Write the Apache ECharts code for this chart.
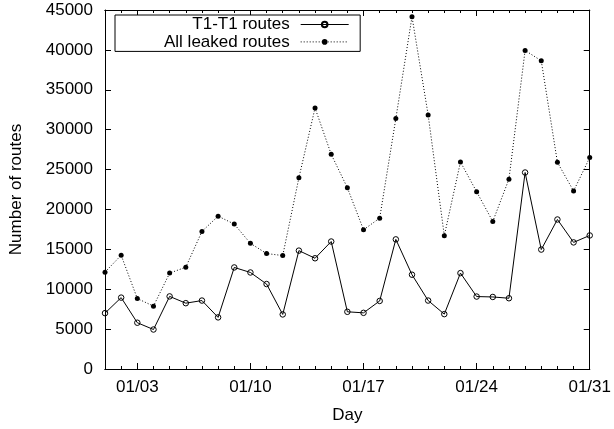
<!DOCTYPE html>
<html>
<head>
<meta charset="utf-8">
<script src="https://cdn.jsdelivr.net/npm/echarts@6/dist/echarts.min.js"></script>
<style>html,body{margin:0;padding:0;background:#fff}#c{width:614px;height:429px}</style>
</head>
<body>
<div id="c"></div>
<script>
var days = ['01/01','01/02','01/03','01/04','01/05','01/06','01/07','01/08','01/09','01/10',
            '01/11','01/12','01/13','01/14','01/15','01/16','01/17','01/18','01/19','01/20',
            '01/21','01/22','01/23','01/24','01/25','01/26','01/27','01/28','01/29','01/30','01/31'];
var majorLabels = ['01/03','01/10','01/17','01/24','01/31'];
var t1Routes = [7000, 8950, 5800, 4950, 9100, 8250, 8580, 6470, 12730, 12100,
                10650, 6840, 14840, 13880, 15980, 7170, 7040, 8530, 16250, 11820,
                8580, 6880, 12020, 9080, 9030, 8870, 24630, 14970, 18740, 15870, 16740];
var leakedRoutes = [12140, 14260, 8830, 7880, 12020, 12760, 17240, 19160, 18160, 15750,
                    14470, 14220, 23960, 32720, 26910, 22720, 17450, 18910, 31390, 44160,
                    31850, 16710, 25950, 22220, 18490, 23800, 39930, 38640, 25910, 22310, 26500];
var seriesNames = ['T1-T1 routes', 'All leaked routes'];

var FONT = 'Liberation Sans, Arial, Helvetica, sans-serif';
var isMajor = function (i, v) { return majorLabels.indexOf(days[i]) >= 0; };

function xAx(pos, major, labels, name) {
  return {
    type: 'category', data: days, boundaryGap: false, position: pos,
    name: name || '', nameLocation: 'middle', nameGap: 38,
    nameTextStyle: { fontFamily: FONT, fontSize: 17, color: '#000' },
    axisLine: { show: true, lineStyle: { color: '#000', width: 1 } },
    axisTick: { show: true, inside: true, length: major ? 6 : 3,
                interval: major ? isMajor : 0, lineStyle: { color: '#000' } },
    axisLabel: { show: labels, interval: isMajor, margin: 10,
                 fontFamily: FONT, fontSize: 17, color: '#000' },
    splitLine: { show: false }
  };
}
function yAx(pos, labels, name) {
  return {
    type: 'value', position: pos, min: 0, max: 45000, interval: 5000,
    name: name || '', nameLocation: 'middle', nameGap: 80,
    nameTextStyle: { fontFamily: FONT, fontSize: 17, color: '#000' },
    axisLine: { show: true, lineStyle: { color: '#000', width: 1 } },
    axisTick: { show: true, inside: true, length: 6, lineStyle: { color: '#000' } },
    axisLabel: { show: labels, margin: 12, fontFamily: FONT, fontSize: 17, color: '#000',
                 formatter: function (v) { return String(v); } },
    splitLine: { show: false }
  };
}

var chart = echarts.init(document.getElementById('c'), null, { renderer: 'canvas' });
chart.setOption({
  animation: false,
  backgroundColor: '#fff',
  grid: { left: 105, right: 20, top: 10, bottom: 57, show: false },
  legend: {
    left: 115, top: 15, orient: 'vertical', align: 'right',
    itemWidth: 48, itemHeight: 7, itemGap: 0.4,
    padding: [1, 11, 1, 49],
    borderColor: '#000', borderWidth: 1, backgroundColor: '#fff',
    lineStyle: { width: 1 },
    textStyle: { fontFamily: FONT, fontSize: 17, color: '#000', lineHeight: 17, padding: [0, 6, 0, 0] },
    data: seriesNames
  },
  xAxis: [
    xAx('bottom', true, true, 'Day'),
    xAx('bottom', false, false),
    xAx('top', true, false),
    xAx('top', false, false)
  ],
  yAxis: [
    yAx('left', true, 'Number of routes'),
    yAx('right', false)
  ],
  series: [
    {
      name: seriesNames[0], type: 'line', data: t1Routes, xAxisIndex: 0, yAxisIndex: 0,
      symbol: 'circle', symbolSize: 5.5,
      itemStyle: { color: 'rgba(255,255,255,0)', borderColor: '#000', borderWidth: 1 },
      lineStyle: { color: '#000', width: 1, type: 'solid' },
      emphasis: { disabled: true }
    },
    {
      name: seriesNames[1], type: 'line', data: leakedRoutes, xAxisIndex: 0, yAxisIndex: 0,
      symbol: 'circle', symbolSize: 5,
      itemStyle: { color: '#000', borderColor: '#000', borderWidth: 0 },
      lineStyle: { color: '#000', width: 1, type: [1, 2] },
      emphasis: { disabled: true }
    }
  ]
});
</script>
</body>
</html>
